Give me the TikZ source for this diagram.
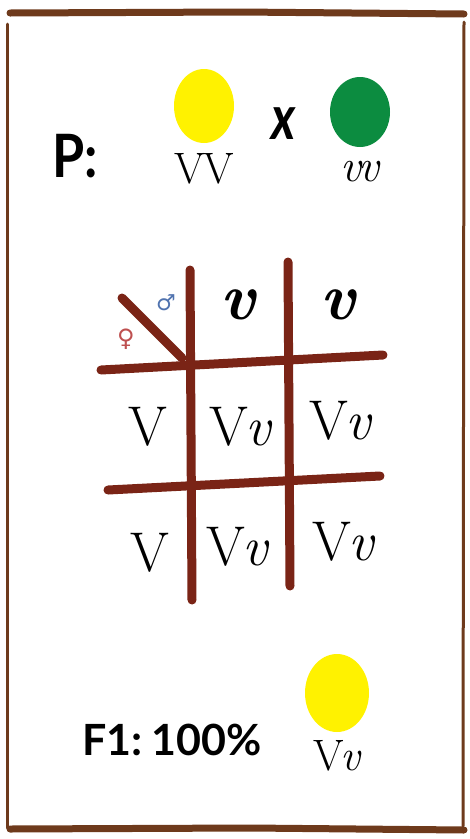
\documentclass[tikz,border=0pt]{standalone}
\usepackage{fontspec}
\newfontfamily\labfont{Lato}
\newfontfamily\symfont{DejaVu Sans}
\usetikzlibrary{positioning, shapes.geometric}

\definecolor{framebrown}{RGB}{110,58,28}
\definecolor{gridred}{RGB}{122,36,22}
\definecolor{peayellow}{RGB}{255,242,0}
\definecolor{peagreen}{RGB}{12,140,64}
\definecolor{malecol}{RGB}{80,115,175}
\definecolor{femalecol}{RGB}{190,80,80}

\newcommand{\hetero}{V\kern-3pt\itshape v}

\begin{document}
\begin{tikzpicture}[x=1pt, y=-1pt,
  node distance=6pt,
  pea/.style={ellipse, minimum width=60pt, minimum height=74pt, inner sep=0pt},
  title/.style={font=\labfont\bfseries\fontsize{52}{52}\selectfont, inner sep=0pt},
  gene/.style={font=\fontsize{56}{56}\selectfont, inner sep=0pt},
  small gene/.style={font=\fontsize{44}{44}\selectfont, inner sep=0pt},
  gamete/.style={font=\bfseries\itshape\fontsize{66}{66}\selectfont, inner sep=0pt},
  bar/.style={draw=gridred, line width=9pt, line cap=round},
  edge/.style={draw=framebrown, line cap=round}
]
  \useasboundingbox (0,0) rectangle (470,839);

  % frame
  \draw[edge, line width=7pt] (10,13) -- (240,12) -- (464,14);
  \draw[edge, line width=3pt] (7,24) -- (7,828);
  \draw[edge, line width=3pt] (464,22) -- (463,826);
  \draw[edge, line width=7pt] (10,829) -- (250,828) -- (464,830);

  % parents
  \node[title, yscale=1.15, transform shape] (p) at (75,156) {P:};
  \node[pea, fill=peayellow] (pa) at (204,106) {};
  \node[pea, fill=peagreen, minimum height=70pt] (pb) at (360,112) {};
  \node[font=\labfont\bfseries\itshape\fontsize{62}{62}\selectfont, inner sep=0pt, xscale=0.8, transform shape] (cross) at (284,124) {x};
  \node[small gene, below=10pt of pa] (ga) {V\kern-2pt V};
  \node[small gene, font=\itshape\fontsize{46}{46}\selectfont, below=14pt of pb] (gb) {v\kern-3pt v};

  % punnett grid
  \draw[bar] (190,270) -- (192,600);
  \draw[bar] (288,262) -- (290,586);
  \draw[bar] (101,370) -- (383,355);
  \draw[bar] (108,490) -- (380,476);
  \draw[bar] (122,298) -- (182,358);
  \node[font=\symfont\fontsize{22}{22}\selectfont, text=malecol, inner sep=0pt] (male) at (166,303) {♂};
  \node[font=\symfont\fontsize{24}{24}\selectfont, text=femalecol, inner sep=0pt] (female) at (126,339) {♀};

  \node[gamete] (m1) at (238,305) {v};
  \node[gamete] (m2) at (338,305) {v};
  \node[gene] (f1) at (148,427) {V};
  \node[gene] (f2) at (150,553) {V};
  \node[gene] (c11) at (240,427) {\hetero};
  \node[gene] (c12) at (340,421) {\hetero};
  \node[gene] (c21) at (237,547) {\hetero};
  \node[gene] (c22) at (343,542) {\hetero};

  % offspring
  \node[title, font=\labfont\bfseries\fontsize{43}{43}\selectfont] (f) at (172,740) {F1:\kern-2pt\ 100\%};
  \node[pea, fill=peayellow, minimum width=64pt, minimum height=78pt] (pc) at (337,693) {};
  \node[small gene, below=8pt of pc] (gc) {\hetero};
\end{tikzpicture}
\end{document}
